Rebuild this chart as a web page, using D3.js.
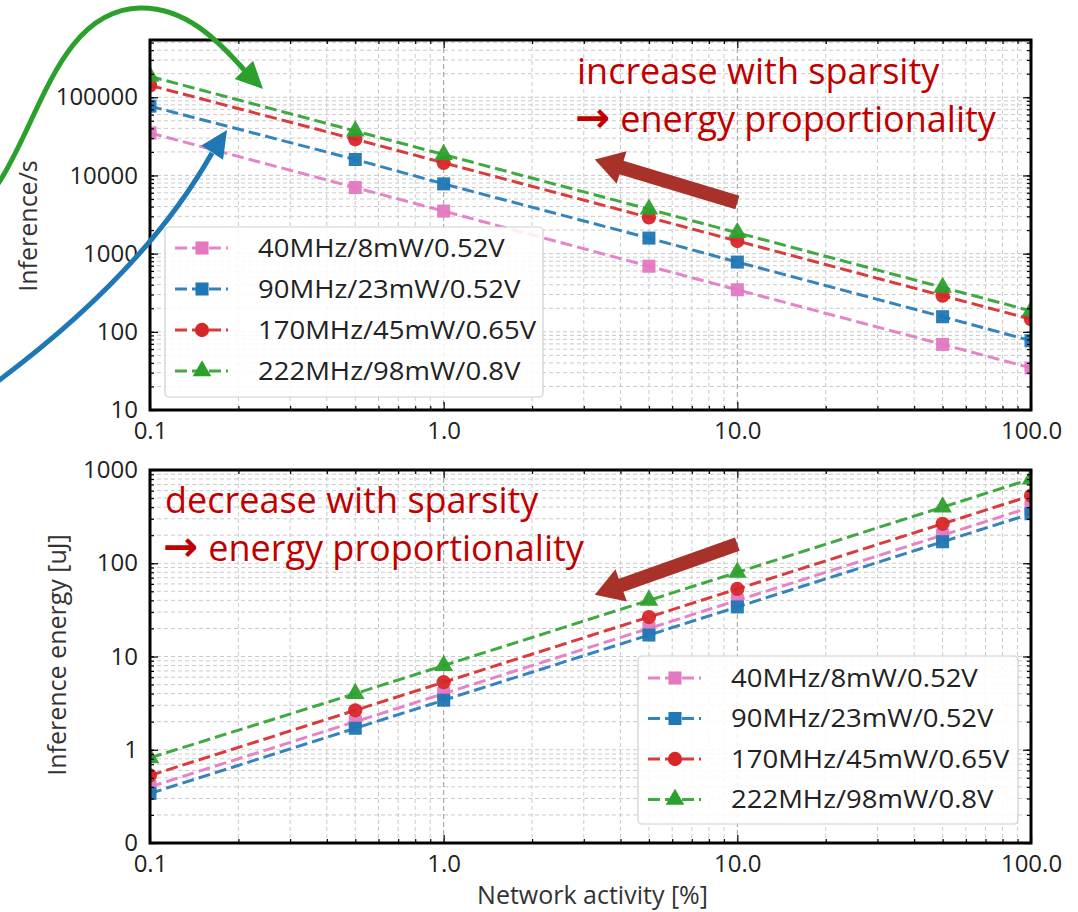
<!DOCTYPE html>
<html>
<head>
<meta charset="utf-8">
<script src="https://cdn.jsdelivr.net/npm/d3@7"></script>
<style>
  body { margin: 0; background: #fff; }
  svg text { font-family: "Open Sans", sans-serif; }
</style>
</head>
<body>
<svg id="chart" width="1078" height="912"></svg>
<script>
// network activity [%] at which every configuration was measured
const activity = [0.1, 0.5, 1, 5, 10, 50, 100];

const configLabels = ["40MHz/8mW/0.52V", "90MHz/23mW/0.52V", "170MHz/45mW/0.65V", "222MHz/98mW/0.8V"];
const configColors = ["#e377c2", "#1f77b4", "#d62728", "#2ca02c"];
const configMarkers = ["square", "square", "circle", "triangle"];

// top panel: inference/s
const rate40 = [35000, 7000, 3500, 690, 345, 69, 34.5];
const rate90 = [77000, 16000, 7800, 1580, 780, 156, 77];
const rate170 = [142000, 29000, 14500, 2900, 1450, 290, 145];
const rate222 = [185000, 37000, 18500, 3700, 1850, 370, 185];

// bottom panel: inference energy [uJ]
const energy40 = [0.4, 2.0, 4.0, 20, 40, 200, 400];
const energy90 = [0.34, 1.7, 3.4, 17, 34, 170, 340];
const energy170 = [0.53, 2.65, 5.3, 26.5, 53, 265, 530];
const energy222 = [0.82, 4.0, 8.0, 40, 80, 400, 800];

const xTickValues = [0.1, 1, 10, 100];
const xTickLabels = ["0.1", "1.0", "10.0", "100.0"];
const topTickValues = [10, 100, 1000, 10000, 100000];
const topTickLabels = ["10", "100", "1000", "10000", "100000"];
const bottomTickValues = [0.1, 1, 10, 100, 1000];
const bottomTickLabels = ["0", "1", "10", "100", "1000"];

const svg = d3.select("#chart");
const plotLeft = 150, plotRight = 1031;

const x = d3.scaleLog().domain([0.1, 100]).range([plotLeft, plotRight]);

function minorValues(lo, hi) {
  const out = [];
  for (let e = Math.floor(Math.log10(lo)); e <= Math.ceil(Math.log10(hi)); e++) {
    for (let k = 1; k <= 9; k++) {
      const v = k * Math.pow(10, e);
      if (v >= lo * 0.9999 && v <= hi * 1.0001) out.push(v);
    }
  }
  return out;
}

function symbolFor(kind) {
  if (kind === "circle") return d3.symbol().type(d3.symbolCircle).size(160)();
  if (kind === "triangle") return d3.symbol().type(d3.symbolTriangle).size(150)();
  return d3.symbol().type(d3.symbolSquare).size(170)();
}

function drawPanel(p) {
  const y = d3.scaleLog().domain(p.yDomain).range([p.bottom, p.top]);
  const g = svg.append("g");
  const clipId = "clip" + p.id;
  svg.append("clipPath").attr("id", clipId)
    .append("rect").attr("x", plotLeft).attr("y", p.top)
    .attr("width", plotRight - plotLeft).attr("height", p.bottom - p.top);

  // grid
  const xMinor = minorValues(0.1, 100).filter(v => !xTickValues.includes(v));
  const yMinor = minorValues(p.yDomain[0], p.yDomain[1]);
  const grid = g.append("g");
  grid.selectAll(".xm").data(xMinor).join("line")
    .attr("x1", d => x(d)).attr("x2", d => x(d)).attr("y1", p.top).attr("y2", p.bottom)
    .attr("stroke", "#c4c4c4").attr("stroke-width", 0.9).attr("stroke-dasharray", "4,3");
  grid.selectAll(".ym").data(yMinor).join("line")
    .attr("x1", plotLeft).attr("x2", plotRight).attr("y1", d => y(d)).attr("y2", d => y(d))
    .attr("stroke", "#c4c4c4").attr("stroke-width", 0.9).attr("stroke-dasharray", "4,3");
  grid.selectAll(".xM").data(xTickValues).join("line")
    .attr("x1", d => x(d)).attr("x2", d => x(d)).attr("y1", p.top).attr("y2", p.bottom)
    .attr("stroke", "#9a9a9a").attr("stroke-width", 1).attr("stroke-dasharray", "5,3");

  // series
  const data = p.series.map((vals, i) => ({ vals, i }));
  const line = d3.line().x((d, j) => x(activity[j])).y(d => y(d));
  const plot = g.append("g").attr("clip-path", `url(#${clipId})`);
  data.forEach(s => {
    const c = configColors[s.i];
    plot.append("path").datum(s.vals).attr("d", line)
      .attr("fill", "none").attr("stroke", c).attr("stroke-width", 3)
      .attr("stroke-dasharray", "12,5").attr("opacity", 0.9);
    plot.selectAll(null).data(s.vals).join("path")
      .attr("d", symbolFor(configMarkers[s.i]))
      .attr("transform", (d, j) => `translate(${x(activity[j])},${y(d)})`)
      .attr("fill", c).attr("opacity", 0.95);
  });

  // ticks, all sides, pointing inward
  const tickStyle = sel => {
    sel.select(".domain").remove();
    sel.selectAll(".tick line").attr("stroke", "#000").attr("stroke-width", 1.2);
    sel.selectAll("text").attr("font-size", 24).attr("fill", "#222");
  };
  const bottomAxis = d3.axisBottom(x).tickValues(xTickValues)
    .tickFormat((d, i) => xTickLabels[i]).tickSize(-8).tickPadding(12);
  g.append("g").attr("transform", `translate(0,${p.bottom})`).call(bottomAxis).call(tickStyle);
  g.append("g").attr("transform", `translate(0,${p.bottom})`)
    .call(d3.axisBottom(x).tickValues(xMinor).tickFormat("").tickSize(-4)).call(tickStyle);
  g.append("g").attr("transform", `translate(0,${p.top})`)
    .call(d3.axisTop(x).tickValues(xTickValues).tickFormat("").tickSize(-8)).call(tickStyle);
  g.append("g").attr("transform", `translate(0,${p.top})`)
    .call(d3.axisTop(x).tickValues(xMinor).tickFormat("").tickSize(-4)).call(tickStyle);

  const leftAxis = d3.axisLeft(y).tickValues(p.yTicks)
    .tickFormat((d, i) => p.yLabels[i]).tickSize(-8).tickPadding(12);
  g.append("g").attr("transform", `translate(${plotLeft},0)`).call(leftAxis).call(tickStyle);
  g.append("g").attr("transform", `translate(${plotLeft},0)`)
    .call(d3.axisLeft(y).tickValues(yMinor).tickFormat("").tickSize(-4)).call(tickStyle);
  g.append("g").attr("transform", `translate(${plotRight},0)`)
    .call(d3.axisRight(y).tickValues(p.yTicks).tickFormat("").tickSize(-8)).call(tickStyle);
  g.append("g").attr("transform", `translate(${plotRight},0)`)
    .call(d3.axisRight(y).tickValues(yMinor).tickFormat("").tickSize(-4)).call(tickStyle);

  // frame
  g.append("rect").attr("x", plotLeft).attr("y", p.top)
    .attr("width", plotRight - plotLeft).attr("height", p.bottom - p.top)
    .attr("fill", "none").attr("stroke", "#000").attr("stroke-width", 3);

  // y label
  g.append("text")
    .attr("transform", `translate(${p.yLabelX},${p.yLabelY}) rotate(-90)`)
    .attr("text-anchor", "middle").attr("font-size", 25).attr("fill", "#333")
    .text(p.yTitle);

  // legend
  const lg = g.append("g");
  lg.append("rect").attr("x", p.legend.x).attr("y", p.legend.y)
    .attr("width", p.legend.w).attr("height", p.legend.h).attr("rx", 4)
    .attr("fill", "#fff").attr("fill-opacity", 0.85).attr("stroke", "#d0d0d0").attr("stroke-width", 1.2);
  configLabels.forEach((lab, i) => {
    const cy = p.legend.y + p.legend.first + i * p.legend.step;
    const hx = p.legend.x + 10;
    lg.append("line").attr("x1", hx).attr("x2", hx + 53).attr("y1", cy).attr("y2", cy)
      .attr("stroke", configColors[i]).attr("stroke-width", 3)
      .attr("stroke-dasharray", "12,5").attr("opacity", 0.9);
    lg.append("path").attr("d", symbolFor(configMarkers[i]))
      .attr("transform", `translate(${hx + 27},${cy})`).attr("fill", configColors[i]);
    lg.append("text").attr("transform", `translate(${hx + 83},${cy}) scale(1.1,1)`)
      .attr("dy", "0.35em").attr("font-size", 25).attr("fill", "#222").text(lab);
  });
  return y;
}

const yTop = drawPanel({
  id: "top", top: 40, bottom: 410, yDomain: [10, 540000],
  series: [rate40, rate90, rate170, rate222],
  yTicks: topTickValues, yLabels: topTickLabels,
  yTitle: "Inference/s", yLabelX: 37, yLabelY: 226,
  legend: { x: 165, y: 227, w: 378, h: 170, first: 21, step: 41 }
});

const yBottom = drawPanel({
  id: "bottom", top: 470, bottom: 843, yDomain: [0.1, 1000],
  series: [energy40, energy90, energy170, energy222],
  yTicks: bottomTickValues, yLabels: bottomTickLabels,
  yTitle: "Inference energy [uJ]", yLabelX: 66, yLabelY: 655,
  legend: { x: 638, y: 656, w: 380, h: 168, first: 22, step: 40.5 }
});

svg.append("text").attr("x", (plotLeft + plotRight) / 2 + 2).attr("y", 904)
  .attr("text-anchor", "middle").attr("font-size", 25).attr("fill", "#333")
  .text("Network activity [%]");

// annotations
const red = "#c00000";
function note(xp, yp, first, second) {
  svg.append("text").attr("x", xp).attr("y", yp)
    .attr("font-size", 36).attr("fill", red).text(first);
  const t = svg.append("text").attr("x", xp - 2).attr("y", yp + 48)
    .attr("font-size", 36).attr("fill", red);
  t.append("tspan").attr("font-family", "DejaVu Sans").attr("font-weight", "bold")
    .attr("font-size", 42).text("\u2192");
  t.append("tspan").attr("dx", 10).text(second);
}
note(577, 84, "increase with sparsity", "energy proportionality");
note(165, 513, "decrease with sparsity", "energy proportionality");

function arrowHead(tip, from, len, wid, color) {
  const dx = tip[0] - from[0], dy = tip[1] - from[1];
  const n = Math.hypot(dx, dy), ux = dx / n, uy = dy / n;
  const bx = tip[0] - ux * len, by = tip[1] - uy * len;
  svg.append("path")
    .attr("d", `M${tip[0]},${tip[1]}L${bx - uy * wid / 2},${by + ux * wid / 2}L${bx + uy * wid / 2},${by - ux * wid / 2}Z`)
    .attr("fill", color);
  return [bx + ux * 2, by + uy * 2];
}

function blockArrow(tail, tip, color) {
  const base = arrowHead(tip, tail, 28, 34, color);
  svg.append("line").attr("x1", tail[0]).attr("y1", tail[1]).attr("x2", base[0]).attr("y2", base[1])
    .attr("stroke", color).attr("stroke-width", 14);
}
const arrowRed = "#a8322a";
blockArrow([x(10), yTop(4500)], [x(3.27), yTop(16000)], arrowRed);
blockArrow([x(10), yBottom(160)], [x(3.27), yBottom(46)], arrowRed);

// curved pointers from outside the figure
svg.append("path").attr("d", "M-2,184 C40,120 60,10 140,8 C185,7 218,40 246,72")
  .attr("fill", "none").attr("stroke", "#2ca02c").attr("stroke-width", 5);
arrowHead([263, 89], [240, 66], 27, 26, "#2ca02c");
svg.append("path").attr("d", "M-2,381 C80,320 160,245 212,153")
  .attr("fill", "none").attr("stroke", "#1f77b4").attr("stroke-width", 5);
arrowHead([227, 130], [206, 162], 27, 26, "#1f77b4");
</script>
</body>
</html>
